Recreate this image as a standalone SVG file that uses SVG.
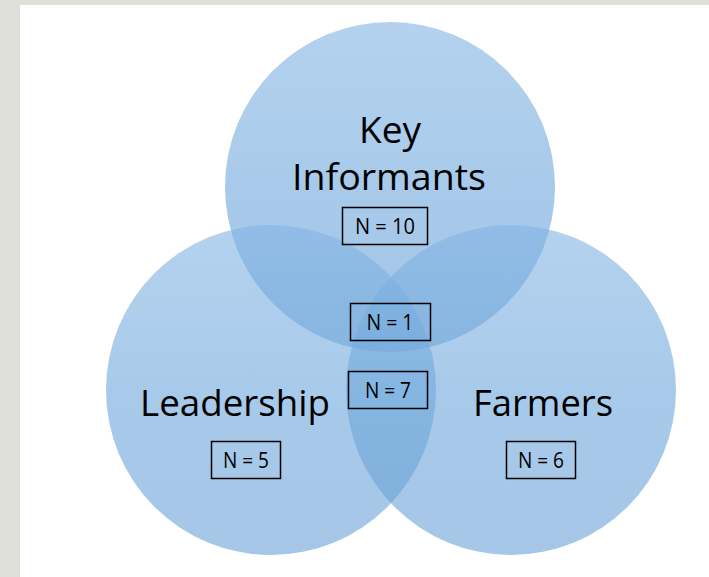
<svg xmlns="http://www.w3.org/2000/svg" width="709" height="577" viewBox="0 0 709 577">
  <defs>
    <linearGradient id="g" x1="0" y1="0" x2="0" y2="1">
      <stop offset="0" stop-color="#82b4e3"/>
      <stop offset="0.5" stop-color="#6ea7dc"/>
      <stop offset="1" stop-color="#69a0d5"/>
    </linearGradient>
  </defs>
  <style>
    .c { fill: url(#g); fill-opacity: 0.6; }
    .t { font-family: "Open Sans", Lato, "Liberation Sans", sans-serif; fill: #000; text-anchor: middle; }
    .big { font-size: 37px; }
    .n { font-size: 22px; }
    .box { fill: none; stroke: #000; stroke-width: 1.5; }
  </style>
  <rect x="0" y="0" width="709" height="577" fill="#dfdfda"/>
  <rect x="20" y="5" width="689" height="572" fill="#ffffff"/>
  <g id="circles">
    <circle id="key-informants-circle" class="c" cx="390" cy="187" r="165"/>
    <circle id="leadership-circle" class="c" cx="271" cy="390" r="165"/>
    <circle id="farmers-circle" class="c" cx="511" cy="390" r="165"/>
  </g>
  <g id="connectors"/>
  <g id="key-informants">
    <text class="t big" x="390" y="143" textLength="62" lengthAdjust="spacingAndGlyphs">Key</text>
    <text class="t big" x="389" y="190" textLength="194" lengthAdjust="spacingAndGlyphs">Informants</text>
    <rect class="box" x="342.5" y="207.5" width="85" height="37"/>
    <text class="t n" x="385" y="233.5" textLength="60" lengthAdjust="spacingAndGlyphs">N = 10</text>
  </g>
  <g id="leadership">
    <text class="t big" x="235" y="416" textLength="190" lengthAdjust="spacingAndGlyphs">Leadership</text>
    <rect class="box" x="211.5" y="441.5" width="69" height="37"/>
    <text class="t n" x="246" y="467.5" textLength="46" lengthAdjust="spacingAndGlyphs">N = 5</text>
  </g>
  <g id="farmers">
    <text class="t big" x="543" y="416" textLength="140" lengthAdjust="spacingAndGlyphs">Farmers</text>
    <rect class="box" x="506.5" y="441.5" width="69" height="37"/>
    <text class="t n" x="541" y="467.5" textLength="46" lengthAdjust="spacingAndGlyphs">N = 6</text>
  </g>
  <g id="all-three">
    <rect class="box" x="350.5" y="303.5" width="80" height="37"/>
    <text class="t n" x="390" y="329.5" textLength="47" lengthAdjust="spacingAndGlyphs">N = 1</text>
  </g>
  <g id="leadership-farmers">
    <rect class="box" x="348.5" y="371.5" width="79" height="37"/>
    <text class="t n" x="388" y="397.5" textLength="46" lengthAdjust="spacingAndGlyphs">N = 7</text>
  </g>
</svg>
